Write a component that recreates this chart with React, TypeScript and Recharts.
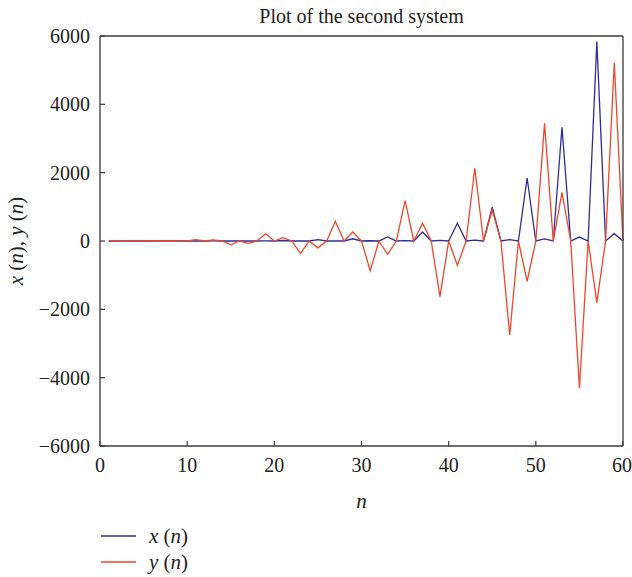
import React from 'react';
import { LineChart, Line, XAxis, YAxis, Legend } from 'recharts';

const nValues = [1,2,3,4,5,6,7,8,9,10,11,12,13,14,15,16,17,18,19,20,21,22,23,24,25,26,27,28,29,30,31,32,33,34,35,36,37,38,39,40,41,42,43,44,45,46,47,48,49,50,51,52,53,54,55,56,57,58,59,60];
const xSeries = [0,0,0,0,0,0,0,0,0,0,0,0,2,0,0,0,5,0,2,0,15,0,3,0,40,0,5,0,65,0,8,0,120,0,12,0,265,0,18,0,518,0,28,0,990,0,40,0,1843,0,60,0,3330,0,115,0,5835,0,215,0];
const ySeries = [0,0,2,0,3,0,-8,0,-12,0,40,0,30,0,-110,0,-70,0,210,0,95,0,-372,0,-200,0,575,0,263,0,-870,0,-390,0,1180,0,518,0,-1630,0,-712,0,2130,0,907,0,-2760,0,-1180,0,3444,0,1424,0,-4311,0,-1805,0,5218,0];
const xTicks = [0,10,20,30,40,50,60];
const yTicks = [-6000,-4000,-2000,0,2000,4000,6000];

const data = nValues.map((n, i) => ({ n, x: xSeries[i], y: ySeries[i] }));

const FONT = '"Liberation Serif", "Times New Roman", Tinos, "DejaVu Serif", "Noto Serif", FreeSerif, Georgia, Times, serif';
const AXIS = '#3a3a3a';
const BLUE = '#2e2e96';
const RED = '#f2452a';

const fmt = (v: number) => (v < 0 ? '\u2212' + Math.abs(v) : String(v));
const tickStyle = { fontFamily: FONT, fontSize: 20, fill: '#222' };

const YLabel = (props: any) => {
  const vb = props.viewBox || {};
  const cx = 16;
  const cy = vb.y + vb.height / 2;
  return (
    <text x={cx} y={cy} transform={`rotate(-90, ${cx}, ${cy})`} textAnchor="middle" dominantBaseline="central"
      style={{ fontFamily: FONT, fontSize: 21, fill: '#222' }}>
      <tspan fontStyle="italic">x</tspan><tspan> (</tspan><tspan fontStyle="italic">n</tspan><tspan>), </tspan>
      <tspan fontStyle="italic">y</tspan><tspan> (</tspan><tspan fontStyle="italic">n</tspan><tspan>)</tspan>
    </text>
  );
};

const XLabel = (props: any) => {
  const vb = props.viewBox || {};
  return (
    <text x={vb.x + vb.width / 2} y={vb.y + 55} textAnchor="middle" dominantBaseline="central"
      style={{ fontFamily: FONT, fontSize: 21, fontStyle: 'italic', fill: '#222' }}>n</text>
  );
};

const TitleLabel = (props: any) => {
  const vb = props.viewBox || {};
  return (
    <text x={vb.x + vb.width / 2} y={vb.y - 19} textAnchor="middle" dominantBaseline="central"
      style={{ fontFamily: FONT, fontSize: 20, fill: '#222' }}>Plot of the second system</text>
  );
};

const LegendContent = () => {
  const items = [
    { name: 'x', color: BLUE },
    { name: 'y', color: RED },
  ];
  return (
    <div style={{ fontFamily: FONT, fontSize: 21, color: '#222' }}>
      {items.map((it) => (
        <div key={it.name} style={{ display: 'flex', alignItems: 'center', height: 26 }}>
          <svg width={48} height={10} style={{ display: 'block' }}>
            <line x1={0} y1={5} x2={35} y2={5} stroke={it.color} strokeWidth={1.5} />
          </svg>
          <span><i>{it.name}</i> (<i>n</i>)</span>
        </div>
      ))}
    </div>
  );
};

export default function App() {
  return (
    <div style={{ position: 'absolute', left: 0, top: 0, width: 632, height: 577, background: '#fff' }}>
      <LineChart width={632} height={577} data={data} margin={{ top: 35, right: 8, left: 0, bottom: 0 }}>
        <XAxis dataKey="n" type="number" domain={[0, 60]} ticks={xTicks} height={131}
          tickSize={-5} tickMargin={17} tick={tickStyle}
          axisLine={{ stroke: AXIS, strokeWidth: 1.3 }} tickLine={{ stroke: AXIS, strokeWidth: 1.2 }}
          label={<XLabel />} />
        <XAxis xAxisId="top" orientation="top" dataKey="n" type="number" domain={[0, 60]} ticks={xTicks} height={1}
          tickSize={-5} tick={false}
          axisLine={{ stroke: AXIS, strokeWidth: 1.3 }} tickLine={{ stroke: AXIS, strokeWidth: 1.2 }}
          label={<TitleLabel />} />
        <YAxis type="number" domain={[-6000, 6000]} ticks={yTicks} width={100}
          tickSize={-5} tickMargin={15} tick={tickStyle} tickFormatter={fmt}
          axisLine={{ stroke: AXIS, strokeWidth: 1.3 }} tickLine={{ stroke: AXIS, strokeWidth: 1.2 }}
          label={<YLabel />} />
        <YAxis yAxisId="right" orientation="right" type="number" domain={[-6000, 6000]} ticks={yTicks} width={1}
          tickSize={-5} tick={false}
          axisLine={{ stroke: AXIS, strokeWidth: 1.3 }} tickLine={{ stroke: AXIS, strokeWidth: 1.2 }} />
        <Line dataKey="x" type="linear" stroke={BLUE} strokeWidth={1.3} dot={false} isAnimationActive={false} />
        <Line dataKey="y" xAxisId="top" yAxisId="right" type="linear" stroke={RED} strokeWidth={1.3} dot={false} isAnimationActive={false} />
        <Legend layout="horizontal" verticalAlign="middle" align="center" content={<LegendContent />}
          wrapperStyle={{ left: 101, top: 523, width: 200, height: 52 }} />
      </LineChart>
    </div>
  );
}
